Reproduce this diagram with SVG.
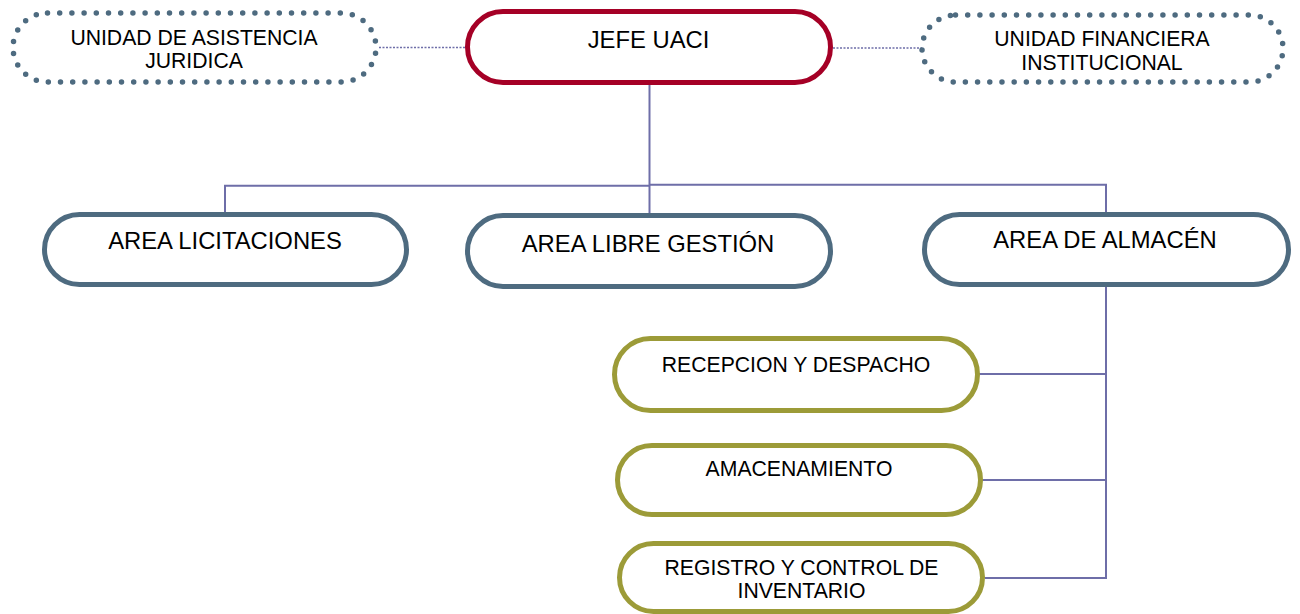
<svg xmlns="http://www.w3.org/2000/svg" width="1300" height="614" viewBox="0 0 1300 614">
<style>
.t{font-family:"Liberation Sans",Arial,sans-serif;fill:#000;text-anchor:middle}
.big{font-size:23.8px}
.sm{font-size:21.2px}
.red{fill:#fff;stroke:#a50026;stroke-width:5}
.slate{fill:#fff;stroke:#4e6b80;stroke-width:5}
.olive{fill:#fff;stroke:#9c9b38;stroke-width:5}
.dot{fill:none;stroke:#4e6b80;stroke-width:5.5;stroke-dasharray:0 12.2;stroke-linecap:round}
.c{fill:none;stroke:#6e6ea8;stroke-width:2}
.cd{fill:none;stroke:#6e6ea8;stroke-width:1.5;stroke-dasharray:2 1.5}
</style>
<rect width="1300" height="614" fill="#fff"/>
<g id="connectors">
<line class="cd" x1="379" y1="47.5" x2="466" y2="47.5"/>
<line class="cd" x1="833" y1="48" x2="922" y2="48"/>
<line class="c" x1="649.5" y1="84" x2="649.5" y2="216"/>
<polyline class="c" points="225,213 225,185.7 649.5,185.7"/>
<polyline class="c" points="649.5,184.7 1106,184.7 1106,213"/>
<polyline class="c" points="1106,286 1106,578 985,578"/>
<line class="c" x1="979" y1="374" x2="1106" y2="374"/>
<line class="c" x1="982" y1="480" x2="1106" y2="480"/>
</g>
<g id="uaj">
<rect class="dot" x="13" y="13" width="363" height="69" rx="34.5"/>
<text class="t sm" x="194" y="45">UNIDAD DE ASISTENCIA</text>
<text class="t sm" x="194" y="68">JURIDICA</text>
</g>
<g id="jefe">
<rect class="red" x="467.5" y="11.5" width="363" height="71" rx="35.5"/>
<text class="t big" x="648.5" y="48">JEFE UACI</text>
</g>
<g id="ufi">
<rect class="dot" x="922" y="15" width="361" height="67" rx="33.5"/>
<text class="t sm" x="1102" y="45.5">UNIDAD FINANCIERA</text>
<text class="t sm" x="1102" y="70">INSTITUCIONAL</text>
</g>
<g id="licitaciones">
<rect class="slate" x="44.5" y="214.5" width="362" height="70" rx="35"/>
<text class="t big" x="225" y="249">AREA LICITACIONES</text>
</g>
<g id="libre">
<rect class="slate" x="467.5" y="215.5" width="363" height="71" rx="35.5"/>
<text class="t big" x="648" y="252">AREA LIBRE GESTIÓN</text>
</g>
<g id="almacen">
<rect class="slate" x="924.5" y="214.5" width="364" height="70" rx="35"/>
<text class="t big" x="1105" y="248">AREA DE ALMACÉN</text>
</g>
<g id="recepcion">
<rect class="olive" x="614.5" y="338.5" width="363" height="72" rx="36"/>
<text class="t sm" x="796" y="372">RECEPCION Y DESPACHO</text>
</g>
<g id="amacenamiento">
<rect class="olive" x="617.5" y="445.5" width="363" height="69" rx="34.5"/>
<text class="t sm" x="799" y="476">AMACENAMIENTO</text>
</g>
<g id="registro">
<rect class="olive" x="619.5" y="543.5" width="363" height="68" rx="34"/>
<text class="t sm" x="801.5" y="575">REGISTRO Y CONTROL DE</text>
<text class="t sm" x="801.5" y="598">INVENTARIO</text>
</g>
</svg>
